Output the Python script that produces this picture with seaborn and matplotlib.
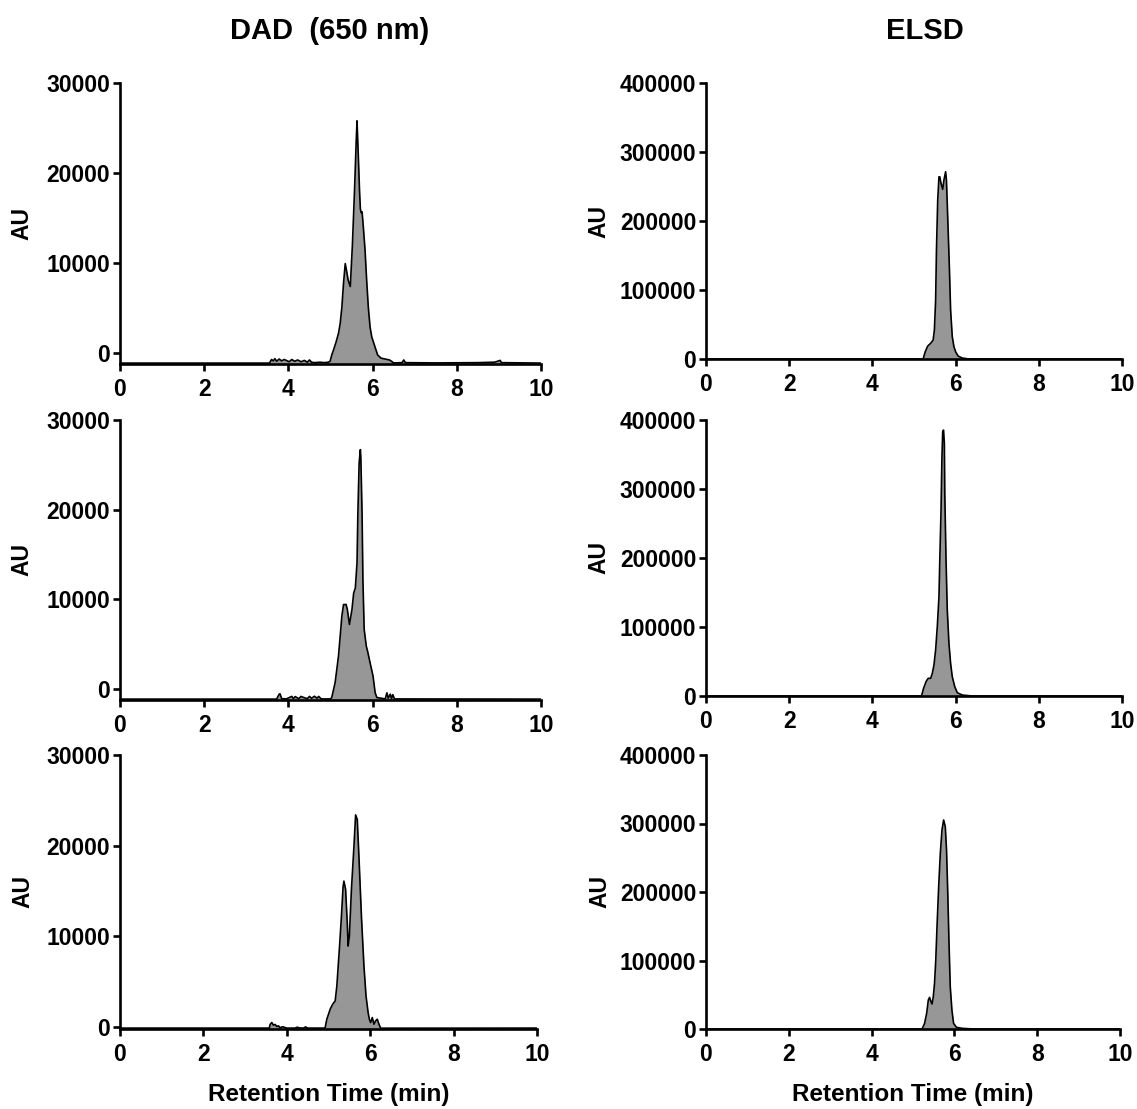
import matplotlib
matplotlib.use("Agg")
import matplotlib.pyplot as plt
import seaborn as sns
import pandas as pd

# ---------------- data (retention time, min / detector signal, AU) ----------------
dad1_t = [0.0, 3.55, 3.60, 3.64, 3.68, 3.72, 3.78, 3.84, 3.90, 3.95, 4.02, 4.08, 4.15, 4.22,
          4.30, 4.38, 4.45, 4.50, 4.55, 4.62, 4.75, 4.85, 4.95, 4.99, 5.03, 5.07, 5.13, 5.19,
          5.23, 5.27, 5.31, 5.35, 5.38, 5.42, 5.47, 5.52, 5.57, 5.61, 5.63, 5.66, 5.69, 5.71,
          5.73, 5.75, 5.78, 5.82, 5.86, 5.90, 5.94, 5.98, 6.05, 6.12, 6.20, 6.30, 6.40, 6.45,
          6.50, 6.70, 6.74, 6.78, 7.50, 8.50, 8.90, 9.03, 9.06, 10.0]
dad1_v = [-1100, -1100, -700, -850, -600, -900, -650, -850, -700, -800, -950, -700, -900, -750,
          -950, -800, -1000, -750, -1000, -1050, -1000, -1050, -1000, -900, -200, 330, 1200, 2200,
          3300, 5100, 7800, 9950, 9200, 8100, 7400, 12000, 18000, 23500, 25800, 22000, 18000, 16000,
          15600, 15700, 14000, 11500, 8000, 5000, 2900, 1800, 800, -200, -550, -650, -750, -900,
          -1080, -1050, -750, -1050, -1080, -1050, -1000, -800, -1050, -1100]

dad2_t = [0.0, 3.72, 3.78, 3.80, 3.84, 3.95, 4.08, 4.12, 4.16, 4.25, 4.30, 4.35, 4.45, 4.50,
          4.55, 4.62, 4.68, 4.72, 4.78, 5.00, 5.03, 5.11, 5.19, 5.27, 5.31, 5.37, 5.40, 5.45,
          5.51, 5.55, 5.59, 5.63, 5.65, 5.68, 5.71, 5.72, 5.75, 5.77, 5.80, 5.85, 5.88, 5.94,
          6.01, 6.06, 6.10, 6.30, 6.34, 6.37, 6.42, 6.45, 6.48, 6.52, 10.0]
dad2_v = [-1100, -1100, -560, -500, -1050, -1080, -800, -1050, -820, -1050, -800, -900, -1050, -800,
          -1000, -780, -1000, -800, -1080, -1080, -920, 740, 3700, 8150, 9440, 9440, 8890, 7220,
          8890, 10700, 11300, 14100, 19600, 25200, 26700, 25900, 19600, 12200, 6670, 4810, 4260, 2960,
          1480, -370, -920, -1080, -400, -1000, -550, -1050, -600, -1080, -1100]

dad3_t = [0.0, 3.58, 3.60, 3.64, 3.68, 3.72, 3.76, 3.80, 3.84, 3.90, 4.00, 4.20, 4.25, 4.30,
          4.40, 4.45, 4.50, 4.90, 4.92, 4.96, 5.04, 5.10, 5.16, 5.20, 5.26, 5.31, 5.35, 5.37,
          5.41, 5.45, 5.47, 5.50, 5.55, 5.61, 5.65, 5.69, 5.73, 5.79, 5.85, 5.90, 5.95, 5.98,
          6.01, 6.05, 6.09, 6.13, 6.17, 6.21, 6.25, 10.0]
dad3_v = [-100, -100, 300, 510, 220, 300, 70, 150, -60, 50, -100, -100, 0, -80,
          -100, 30, -100, -100, -40, 880, 1980, 2530, 2890, 4540, 8570, 12200, 15500, 16100,
          15200, 11500, 8940, 10000, 15200, 19900, 23400, 22900, 18800, 12200, 6740, 3440, 1610, 880,
          510, 1060, 330, 700, 880, 330, -110, -100]

elsd1_t = [0.0, 5.22, 5.27, 5.33, 5.40, 5.46, 5.49, 5.52, 5.54, 5.57, 5.60, 5.62, 5.65, 5.69,
           5.72, 5.76, 5.78, 5.81, 5.85, 5.88, 5.92, 5.96, 6.00, 6.06, 6.16, 6.32, 10.0]
elsd1_v = [0, 0, 10600, 18800, 22700, 27500, 42000, 85500, 158000, 230400, 264000, 264000, 254600, 245900,
           259400, 271400, 259400, 206200, 133800, 71000, 32400, 17900, 10600, 4300, 1400, 0, 0]

elsd2_t = [0.0, 5.18, 5.23, 5.29, 5.34, 5.40, 5.44, 5.48, 5.52, 5.56, 5.60, 5.62, 5.65, 5.67,
           5.69, 5.71, 5.73, 5.74, 5.77, 5.80, 5.84, 5.88, 5.92, 5.98, 6.04, 6.16, 6.40, 10.0]
elsd2_v = [0, 0, 11100, 20800, 25600, 25600, 32800, 44900, 66700, 100500, 143900, 197100, 269500, 342000,
           383000, 385400, 366100, 293700, 197100, 124600, 76300, 47300, 28000, 13500, 4800, 1400, 0, 0]

elsd3_t = [0.0, 5.22, 5.28, 5.33, 5.37, 5.40, 5.42, 5.46, 5.49, 5.52, 5.55, 5.58, 5.62, 5.66,
           5.70, 5.74, 5.78, 5.81, 5.84, 5.87, 5.90, 5.94, 5.98, 6.05, 6.18, 6.46, 10.0]
elsd3_v = [0, 0, 8300, 22900, 42300, 46200, 42300, 36500, 47200, 66700, 100700, 149400, 207800, 256500,
           290500, 305100, 295400, 261300, 198100, 125100, 61800, 27700, 8300, 2500, 1000, 0, 0]

x_ticks = [0, 2, 4, 6, 8, 10]
dad_yticks = [0, 10000, 20000, 30000]
elsd_yticks = [0, 100000, 200000, 300000, 400000]
col_titles = ["DAD  (650 nm)", "ELSD"]
y_label = "AU"
x_label = "Retention Time (min)"

# ---------------- style ----------------
sns.set_style("ticks")
plt.rcParams["font.family"] = ["Liberation Sans", "DejaVu Sans"]
plt.rcParams["font.weight"] = "bold"
plt.rcParams["text.color"] = "black"
plt.rcParams["axes.labelcolor"] = "black"
plt.rcParams["xtick.color"] = "black"
plt.rcParams["ytick.color"] = "black"

W, H = 1137, 1109
fig = plt.figure(figsize=(W / 100, H / 100), dpi=100)

# panels: (t, v, ylim, yticks, pixel box left,right,top,bottom)
panels = [
    (dad1_t, dad1_v, (-1200, 30000), dad_yticks, (120, 541, 83, 364)),
    (elsd1_t, elsd1_v, (0, 400000), elsd_yticks, (706, 1122, 83, 359)),
    (dad2_t, dad2_v, (-1200, 30000), dad_yticks, (120, 541, 420, 700)),
    (elsd2_t, elsd2_v, (0, 400000), elsd_yticks, (706, 1122, 420, 696)),
    (dad3_t, dad3_v, (-200, 30000), dad_yticks, (120, 537, 755, 1029)),
    (elsd3_t, elsd3_v, (0, 400000), elsd_yticks, (706, 1120, 755, 1029)),
]

fill_col = "#979797"
for i, (t, v, ylim, yt, (l, r, tp, b)) in enumerate(panels):
    ax = fig.add_axes([l / W, 1 - b / H, (r - l) / W, (b - tp) / H])
    df = pd.DataFrame({"t": t, "v": v})
    ax.fill_between(df["t"], df["v"], ylim[0], color=fill_col, lw=0, zorder=1)
    sns.lineplot(data=df, x="t", y="v", ax=ax, color="black", lw=1.2, zorder=2,
                 estimator=None, sort=False)
    ax.set_xlim(0, 10)
    ax.set_ylim(*ylim)
    ax.set_xticks(x_ticks)
    ax.set_yticks(yt)
    ax.set_xticklabels([str(x) for x in x_ticks])
    ax.set_yticklabels([str(y) for y in yt])
    sns.despine(ax=ax)
    for s in ("left", "bottom"):
        ax.spines[s].set_linewidth(1.9)
        ax.spines[s].set_color("black")
    ax.tick_params(axis="both", direction="out", length=5, width=1.9, color="black",
                   labelcolor="black", labelsize=16.5)
    ax.tick_params(axis="x", pad=5)
    ax.tick_params(axis="y", pad=2)
    for lab in ax.get_xticklabels() + ax.get_yticklabels():
        lab.set_fontweight("bold")
    ax.set_ylabel(y_label, fontsize=16.5, fontweight="bold", color="black")
    if i % 2 == 0:
        ax.yaxis.set_label_coords(-0.205, 0.5)
    else:
        ax.yaxis.set_label_coords(-0.229, 0.5)
    if i >= 4:
        ax.set_xlabel(x_label, fontsize=17.5, fontweight="bold", color="black")
        ax.xaxis.set_label_coords(0.5, -0.196)
    else:
        ax.set_xlabel("")

fig.text(330 / W, 1 - 31 / H, col_titles[0], ha="center", va="center",
         fontsize=21, fontweight="bold", color="black")
fig.text(925 / W, 1 - 31 / H, col_titles[1], ha="center", va="center",
         fontsize=21, fontweight="bold", color="black")

fig.savefig("out.png", dpi=100, facecolor="white")
